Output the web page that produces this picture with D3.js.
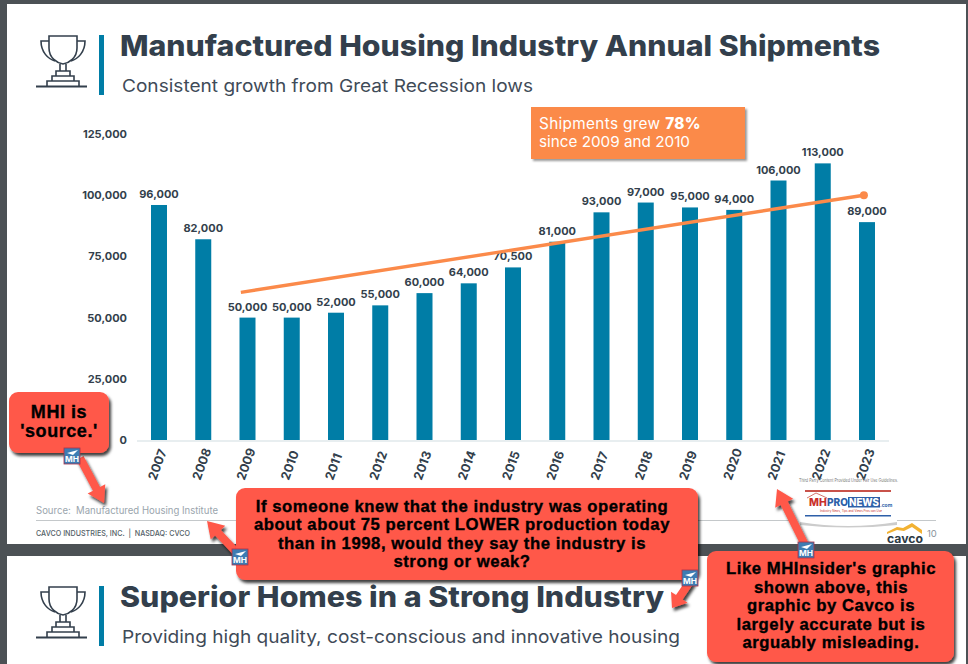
<!DOCTYPE html>
<html><head><meta charset="utf-8">
<script src="https://cdn.jsdelivr.net/npm/d3@7/dist/d3.min.js"></script>
<style>html,body{margin:0;padding:0;background:#4c5155}svg{display:block}</style>
</head><body><svg id="c" width="968" height="664"></svg>
<script>
const years = ["2007","2008","2009","2010","2011","2012","2013","2014","2015","2016","2017","2018","2019","2020","2021","2022","2023"];
const shipments = [96000,82000,50000,50000,52000,55000,60000,64000,70500,81000,93000,97000,95000,94000,106000,113000,89000];
const yTicks = [0,25000,50000,75000,100000,125000];
const trendYear = [2008.85,2022.93];
const trendValue = [60300,100000];
const titleText = "Manufactured Housing Industry Annual Shipments";
const subtitleText = "Consistent growth from Great Recession lows";
const title2Text = "Superior Homes in a Strong Industry";
const subtitle2Text = "Providing high quality, cost-conscious and innovative housing";
const sourceText = "Source:\u00a0\u00a0Manufactured Housing Institute";
const footerText = "CAVCO INDUSTRIES, INC.\u00a0\u00a0|\u00a0\u00a0NASDAQ: CVCO";
const growthLine1 = "Shipments grew ";
const growthBold = "78%";
const growthLine2 = "since 2009 and 2010";
const note1 = ["MHI is","'source.'"];
const note2 = ["If someone knew that the industry was operating","about about 75 percent LOWER production today","than in 1998, would they say the industry is","strong or weak?"];
const note3 = ["Like MHInsider's graphic","shown above, this","graphic by Cavco is","largely accurate but is","arguably misleading."];

const BLUE="#007da6", DARK="#333f4c", ORANGE="#fb8a4a", RED="#ff584a";
const SANS="Inter, 'Open Sans', sans-serif", HEAVY="'Liberation Sans', Arial, sans-serif";
const svg=d3.select("#c");
const defs=svg.append("defs");
const sh=defs.append("filter").attr("id","sh").attr("x","-20%").attr("y","-20%").attr("width","140%").attr("height","140%");
sh.append("feDropShadow").attr("dx",2).attr("dy",3).attr("stdDeviation",1.6).attr("flood-color","#000").attr("flood-opacity",0.75);
const sh2=defs.append("filter").attr("id","sh2").attr("x","-10%").attr("y","-10%").attr("width","120%").attr("height","130%");
sh2.append("feDropShadow").attr("dx",2).attr("dy",2).attr("stdDeviation",1.2).attr("flood-color","#000").attr("flood-opacity",0.4);

function txt(g,x,y,s,o){
  const t=g.append("text").attr("x",x).attr("y",y).text(s)
    .attr("font-family",o.f||SANS).attr("font-size",o.s).attr("font-weight",o.w||400)
    .attr("fill",o.c||DARK).attr("text-anchor",o.a||"start");
  if(o.l) t.attr("textLength",o.l).attr("lengthAdjust","spacingAndGlyphs");
  return t;
}
// panels
svg.append("rect").attr("x",7).attr("y",4).attr("width",959).attr("height",540).attr("fill","#fff");
svg.append("rect").attr("x",7).attr("y",556).attr("width",959).attr("height",108).attr("fill","#fff");

// headers
function trophy(g,y0){
  const p=g.append("g").attr("transform",`translate(36,${y0})`).attr("fill","none").attr("stroke",DARK).attr("stroke-width",1.6);
  p.append("path").attr("d","M13 1H41V13C41 23 33 28 27 29C21 28 13 23 13 13Z");
  p.append("path").attr("d","M13 6H5C5 17 12 24 19 26M41 6H49C49 17 42 24 35 26");
  p.append("path").attr("d","M24 29V36H30V29M20 41V36H34V41M16 46V41H38V46M11 51V46H43V51");
  p.append("path").attr("d","M0 51.5H51").attr("stroke-width",1.8);
}
const head=svg.append("g");
trophy(head,35);
head.append("rect").attr("x",99).attr("y",35).attr("width",5).attr("height",60).attr("fill",BLUE);
txt(head,120,56,titleText,{s:28,w:800,l:760});
txt(head,122,92,subtitleText,{s:17.5,c:"#3f4b58",l:411});
trophy(head,586);
head.append("rect").attr("x",99).attr("y",586).attr("width",5).attr("height",60).attr("fill",BLUE);
txt(head,120,607,title2Text,{s:28,w:800,l:544});
txt(head,122,643,subtitle2Text,{s:17.5,c:"#3f4b58",l:558});

// chart
const x=d3.scaleLinear().domain([2007,2023]).range([159,867]);
const y=d3.scaleLinear().domain([0,125000]).range([440,134]);
const barW=16;
const axis=svg.append("g").attr("transform","translate(118,0)")
  .call(d3.axisLeft(y).tickValues(yTicks).tickSize(0).tickPadding(-10).tickFormat(d3.format(",")));
axis.select(".domain").remove();
axis.selectAll("text").attr("font-family",SANS).attr("font-size",11).attr("font-weight",700).attr("fill",DARK).attr("text-anchor","end").attr("x",9);
svg.append("line").attr("x1",137).attr("x2",889).attr("y1",y(0)+1).attr("y2",y(0)+1).attr("stroke","#e8eef0").attr("stroke-width",2);
svg.append("g").selectAll("rect").data(shipments).join("rect")
  .attr("x",(d,i)=>x(+years[i])-barW/2).attr("width",barW)
  .attr("y",d=>y(d)).attr("height",d=>y(0)-y(d)).attr("fill",BLUE);
svg.append("g").selectAll("text").data(shipments).join("text")
  .attr("x",(d,i)=>x(+years[i])).attr("y",d=>y(d)-7)
  .attr("text-anchor","middle").attr("font-family",SANS).attr("font-size",11).attr("font-weight",700).attr("fill",DARK)
  .text(d3.format(","));
svg.append("g").selectAll("text").data(years).join("text")
  .attr("transform",d=>`translate(${x(+d)-3},${481}) rotate(-70)`)
  .attr("font-family",SANS).attr("font-size",12.5).attr("font-weight",700).attr("fill",DARK).text(d=>d);
const trend=d3.line().x(d=>x(d[0])).y(d=>y(d[1]));
svg.append("path").attr("d",trend(d3.zip(trendYear,trendValue))).attr("stroke",ORANGE).attr("stroke-width",3.4).attr("fill","none");
svg.append("circle").attr("cx",x(trendYear[1])).attr("cy",y(trendValue[1])).attr("r",4).attr("fill",ORANGE);

// growth box
svg.append("rect").attr("x",531).attr("y",107).attr("width",214).attr("height",52).attr("fill",ORANGE).attr("filter","url(#sh2)");
const gt=txt(svg,539,129,growthLine1,{s:15.3,c:"#fff"}).attr("letter-spacing",0.35);
gt.append("tspan").attr("font-weight",800).text(growthBold);
txt(svg,539,147,growthLine2,{s:15,c:"#fff",l:151});

// footer
txt(svg,36,514,sourceText,{s:10,c:"#9aa5ad",l:182});
svg.append("line").attr("x1",36).attr("x2",936).attr("y1",520.5).attr("y2",520.5).attr("stroke","#c4c8ca");
txt(svg,36,536,footerText,{s:8,w:500,c:"#555f68",l:154});

// logos
const cv=svg.append("g");
cv.append("path").attr("d","M887 532L897 527L903 528L912 523L922 530L922 534L912 527L904 531L897 530L887 534Z").attr("fill","#f2b233");
txt(cv,887,543,"cavco",{s:12,w:700,c:"#2d3a44",l:36});
txt(cv,927,537,"10",{s:9.5,c:"#8a949c"});
const mp=svg.append("g");
txt(mp,799,482,"Third Party Content Provided Under Fair Use Guidelines.",{s:4.5,c:"#777",l:99});
mp.append("rect").attr("x",797).attr("y",486).attr("width",100).attr("height",41).attr("fill","#fff");
mp.append("path").attr("d","M800 522Q848 530 897 522V525Q848 530 800 525Z").attr("fill","#ccc");
mp.append("rect").attr("x",805).attr("y",490).attr("width",86).attr("height",2).attr("fill","#c8524a");
mp.append("rect").attr("x",805).attr("y",515).attr("width",86).attr("height",1.5).attr("fill","#2d5fa8");
mp.append("path").attr("d","M807 498L816 493L827 498").attr("fill","none").attr("stroke","#c8524a").attr("stroke-width",.8);
txt(mp,809,506,"MH",{s:10.5,w:800,c:"#c9302c"});
txt(mp,827,506,"PRO",{s:10.5,w:800,c:"#2d5fa8",l:21});
mp.append("rect").attr("x",848).attr("y",497).attr("width",32).attr("height",10.5).attr("fill","#2d5fa8");
txt(mp,849,506,"NEWS",{s:10,w:800,c:"#fff",l:30});
txt(mp,880,507,".com",{s:5,w:700,c:"#2d5fa8"});
txt(mp,820,512,"Industry News, Tips and Views Pros can Use",{s:3.6,c:"#c9302c",l:62});

// arrows
function arrow(g,a,b,c,d,w=8,hw=10,hl=16){
  const L=Math.hypot(c-a,d-b),ux=(c-a)/L,uy=(d-b)/L,nx=-uy,ny=ux,bx=c-ux*hl,by=d-uy*hl;
  const P=[[a+nx*w/2,b+ny*w/2],[bx+nx*w/2,by+ny*w/2],[bx+nx*hw,by+ny*hw],[c,d],[bx-nx*hw,by-ny*hw],[bx-nx*w/2,by-ny*w/2],[a-nx*w/2,b-ny*w/2]];
  g.append("polygon").attr("points",P.map(p=>p.join(",")).join(" ")).attr("fill",RED).attr("filter","url(#sh)");
}
function box(g,x0,y0,w,h,lines,first,step,size,cx){
  g.append("rect").attr("x",x0).attr("y",y0).attr("width",w).attr("height",h).attr("rx",9).attr("fill",RED).attr("filter","url(#sh)");
  lines.forEach((s,i)=>txt(g,cx,first+i*step,s,{f:HEAVY,s:size,w:700,c:"#000",a:"middle"})
    .attr("letter-spacing",0.55).attr("stroke","#000").attr("stroke-width",0.35));
}
function badge(g,cx,cy){
  const b=g.append("g");
  b.append("rect").attr("x",cx-8).attr("y",cy-8).attr("width",16).attr("height",16).attr("fill","#3d7cb3").attr("stroke","#a8324a").attr("stroke-width",.8);
  b.append("path").attr("d",`M${cx-5} ${cy-3}L${cx+6} ${cy-6}L${cx+1} ${cy-1}Z`).attr("fill","#fff");
  txt(b,cx,cy+6,"MH",{s:8,w:700,c:"#fff",a:"middle",l:14});
}
const n=svg.append("g");
arrow(n,80,458,104,503);
arrow(n,239,555,207,521);
arrow(n,805,545,777,489);
arrow(n,691,580,672,608,8,10,13);
box(n,9,392,100,61,note1,418,19,18,59);
box(n,236,488,462,92,note2,512,18.4,16.7,462);
box(n,707,551,247,111,note3,574,18.5,16.7,831);
badge(n,72,456);badge(n,240,557);badge(n,690,578);badge(n,806,550);
</script></body></html>
